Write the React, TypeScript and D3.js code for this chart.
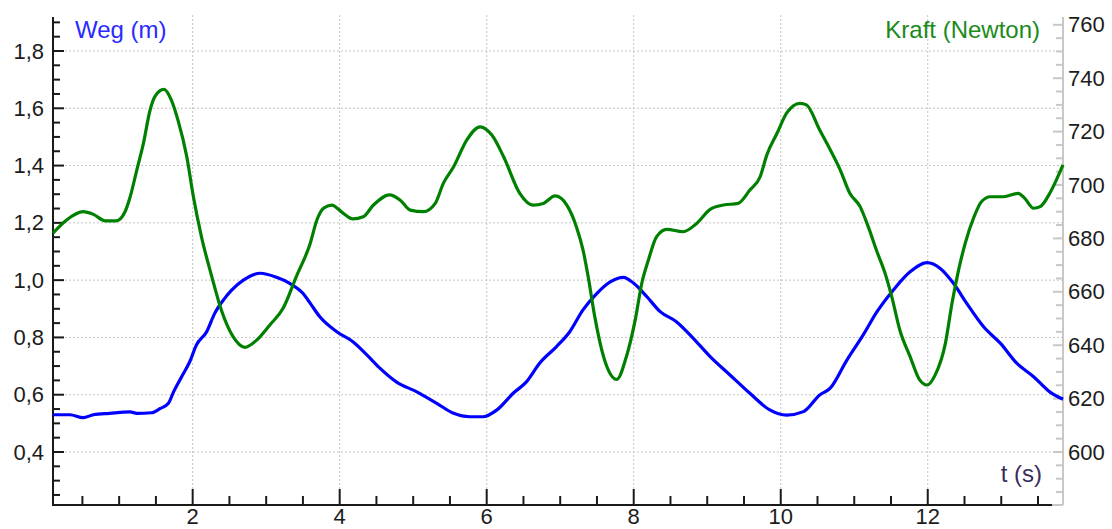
import React from "react"
import * as d3 from "d3"

// Weg (blue, left axis)
const wegTime = [
  0.1, 0.33, 0.51, 0.65, 0.87, 1.15, 1.24, 1.44, 1.56, 1.67, 1.74, 1.85, 1.96, 2.05, 2.19, 2.3, 2.42, 2.53, 2.69, 2.92,
  3.14, 3.32, 3.5, 3.6, 3.73, 3.96, 4.18, 4.37, 4.55, 4.77, 5.05, 5.32, 5.55, 5.77, 5.95, 6.14, 6.36, 6.54, 6.72, 6.95,
  7.13, 7.31, 7.5, 7.68, 7.86, 8.0, 8.18, 8.36, 8.58, 8.81, 9.04, 9.31, 9.58, 9.85, 10.08, 10.31, 10.53, 10.67, 10.9,
  11.12, 11.31, 11.53, 11.76, 11.99, 12.17, 12.35, 12.53, 12.76, 12.99, 13.21, 13.44, 13.66, 13.84
]
const wegValues = [
  0.53, 0.53, 0.52, 0.53, 0.535, 0.54, 0.535, 0.537, 0.552, 0.57, 0.61, 0.663, 0.715, 0.773, 0.82, 0.884, 0.931, 0.965, 1.0, 1.024,
  1.01, 0.989, 0.954, 0.919, 0.872, 0.82, 0.785, 0.739, 0.692, 0.645, 0.61, 0.57, 0.535, 0.523, 0.523, 0.547, 0.605, 0.645, 0.71, 0.768,
  0.82, 0.896, 0.954, 0.994, 1.01, 0.989, 0.942, 0.89, 0.855, 0.797, 0.733, 0.669, 0.605, 0.547, 0.529, 0.541, 0.599, 0.622, 0.721,
  0.808, 0.89, 0.965, 1.029, 1.061, 1.041, 0.989, 0.919, 0.837, 0.779, 0.71, 0.663, 0.61, 0.584
]

// Kraft (green, right axis)
const kraftTime = [
  0.1, 0.29, 0.51, 0.65, 0.81, 0.96, 1.08, 1.15, 1.24, 1.33, 1.42, 1.49, 1.61, 1.71, 1.8, 1.92, 2.01, 2.12, 2.26, 2.39,
  2.55, 2.71, 2.87, 3.05, 3.23, 3.41, 3.6, 3.69, 3.78, 3.89, 4.05, 4.18, 4.32, 4.46, 4.68, 4.82, 4.96, 5.14, 5.3, 5.41,
  5.55, 5.73, 5.91, 6.07, 6.23, 6.45, 6.63, 6.77, 6.93, 7.09, 7.22, 7.31, 7.38, 7.47, 7.59, 7.77, 7.9, 8.02, 8.11, 8.2,
  8.31, 8.45, 8.67, 8.86, 9.04, 9.22, 9.42, 9.58, 9.72, 9.81, 9.95, 10.08, 10.26, 10.35, 10.53, 10.67, 10.81, 10.94, 11.08,
  11.19, 11.31, 11.42, 11.51, 11.62, 11.76, 11.89, 11.99, 12.1, 12.24, 12.33, 12.42, 12.51, 12.63, 12.73, 12.85, 13.03,
  13.23, 13.32, 13.44, 13.53, 13.66, 13.75, 13.84
]
const kraftValues = [
  682, 687, 690, 689, 686.6, 686.6, 690, 695.6, 705.6, 715.6, 728, 733.3, 735.8, 731.8, 724.3, 710.6, 695.6, 680.6, 665.7, 653.2,
  643.2, 639.2, 641.9, 647.6, 653.8, 665.7, 678.2, 686.9, 691.3, 692.5, 689.4, 687.3, 688.1, 692.5, 696.3, 694.4, 690.6, 690, 693.1, 700.6,
  706.8, 716.9, 721.8, 718.7, 710.6, 696.9, 692.5, 693.1, 695.9, 692.5, 684.4, 675.7, 665.7, 650.7, 635.7, 627.2, 635.7, 649.4, 663.2, 671.9,
  680.6, 683.4, 682.5, 685.7, 690.9, 692.5, 693.1, 698.1, 703.1, 711.2, 719.4, 726.9, 730.6, 730, 720.6, 713.4, 705.6, 696.9, 691.9,
  684.4, 675, 666.9, 658.2, 645.7, 635.7, 627, 625.1, 628.8, 640.7, 655.7, 668.2, 678.2, 688.1, 693.7, 695.6, 695.6,
  696.9, 695, 691.3, 691.9, 696.9, 701.9, 707.5
]

const xLabelTicks = [2, 4, 6, 8, 10, 12]
const leftLabelTicks = [0.4, 0.6, 0.8, 1.0, 1.2, 1.4, 1.6, 1.8]
const rightLabelTicks = [600, 620, 640, 660, 680, 700, 720, 740, 760]

const W = 1112
const H = 529
const left = 53
const right = 1063
const top = 17
const bottom = 505

const FONT = "'Liberation Sans', Arial, sans-serif"

export default function App() {
  const x = d3.scaleLinear().domain([0.1, 13.84]).range([left, right])
  const yL = d3.scaleLinear().domain([0.4, 1.8]).range([452, 51])
  const yR = d3.scaleLinear().domain([600, 760]).range([452, 24.8])

  const wegLine = d3.line<number>()
    .x((d, i) => x(wegTime[i]))
    .y(d => yL(d))
    .curve(d3.curveMonotoneX)
  const kraftLine = d3.line<number>()
    .x((d, i) => x(kraftTime[i]))
    .y(d => yR(d))
    .curve(d3.curveMonotoneX)

  const xMinor = d3.range(0.5, 13.6, 0.5).filter(t => !xLabelTicks.includes(t))
  const leftMinor = d3.range(0.25, 1.91, 0.05).map(v => +v.toFixed(2)).filter(v => !leftLabelTicks.some(m => Math.abs(m - v) < 1e-6))
  const rightMinor = d3.range(585, 761, 5).filter(v => v % 20 !== 0)

  const fmt = (v: number) => v.toFixed(1).replace(".", ",")
  const grid = "#c4c4c4"
  const axisGray = "#c8c8c8"

  return (
    <svg width={W} height={H} style={{ position: "absolute", left: 0, top: 0, background: "#fff" }} fontFamily={FONT}>
      <rect width={W} height={H} fill="#fff" />

      {/* grid */}
      {xLabelTicks.map(t => (
        <line key={"gx" + t} x1={x(t)} x2={x(t)} y1={15} y2={bottom} stroke={grid} strokeDasharray="2,2" />
      ))}
      {leftLabelTicks.map(v => (
        <line key={"gy" + v} x1={left} x2={right} y1={yL(v)} y2={yL(v)} stroke={grid} strokeDasharray="2,2" />
      ))}

      {/* right axis (gray) */}
      <line x1={right} x2={right} y1={top} y2={bottom} stroke={axisGray} strokeWidth={2} />
      <line x1={1052} x2={right} y1={bottom} y2={bottom} stroke={axisGray} strokeWidth={2} />
      {rightMinor.map(v => (
        <line key={"rm" + v} x1={right - 7} x2={right} y1={yR(v)} y2={yR(v)} stroke={axisGray} strokeWidth={2} />
      ))}
      {rightLabelTicks.map(v => (
        <g key={"rt" + v}>
          <line x1={right - 10} x2={right} y1={yR(v)} y2={yR(v)} stroke={axisGray} strokeWidth={2} />
          <text x={1068} y={yR(v) + 7.5} fontSize={22} fill="#1c1c1c">{v}</text>
        </g>
      ))}

      {/* left axis */}
      <line x1={left} x2={left} y1={top} y2={bottom + 1} stroke="#1a1a1a" strokeWidth={2} />
      {leftMinor.map(v => (
        <line key={"lm" + v} x1={left} x2={left + 7} y1={yL(v)} y2={yL(v)} stroke="#1a1a1a" strokeWidth={2} />
      ))}
      {leftLabelTicks.map(v => (
        <g key={"lt" + v}>
          <line x1={left} x2={left + 11} y1={yL(v)} y2={yL(v)} stroke="#1a1a1a" strokeWidth={2} />
          <text x={44} y={yL(v) + 7.5} fontSize={22} textAnchor="end" fill="#1c1c1c">{fmt(v)}</text>
        </g>
      ))}

      {/* bottom axis */}
      <line x1={left} x2={1052} y1={bottom} y2={bottom} stroke="#1a1a1a" strokeWidth={2} />
      {xMinor.map(t => (
        <line key={"xm" + t} x1={x(t)} x2={x(t)} y1={bottom} y2={bottom - 9} stroke="#1a1a1a" strokeWidth={2} />
      ))}
      {xLabelTicks.map(t => (
        <g key={"xt" + t}>
          <line x1={x(t)} x2={x(t)} y1={bottom} y2={bottom - 16} stroke="#1a1a1a" strokeWidth={2} />
          <text x={x(t)} y={524} fontSize={22} textAnchor="middle" fill="#1c1c1c">{t}</text>
        </g>
      ))}

      {/* series */}
      <path d={wegLine(wegValues) || ""} fill="none" stroke="#0000ff" strokeWidth={3.2} strokeLinejoin="round" />
      <path d={kraftLine(kraftValues) || ""} fill="none" stroke="#008000" strokeWidth={3.2} strokeLinejoin="round" />

      {/* titles */}
      <text x={75} y={38} fontSize={24} fill="#2a2aff">Weg (m)</text>
      <text x={1040} y={38} fontSize={24} textAnchor="end" fill="#1a8a1a">Kraft (Newton)</text>
      <text x={1042} y={482} fontSize={24} textAnchor="end" fill="#3a2d5c">t (s)</text>
    </svg>
  )
}
